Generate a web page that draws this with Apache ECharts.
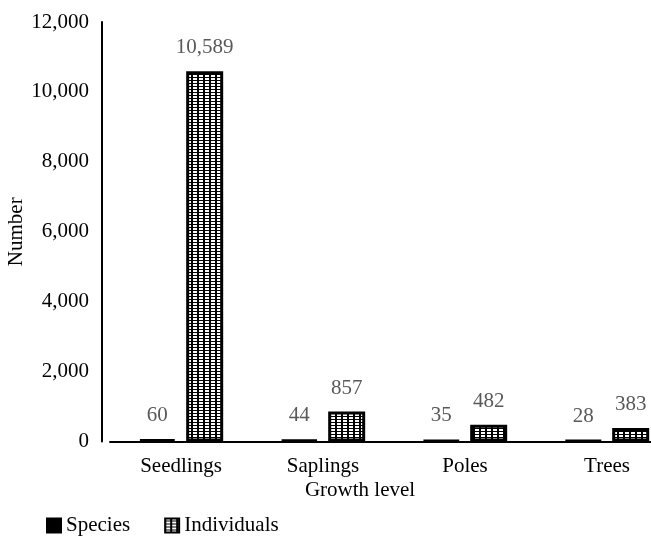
<!DOCTYPE html>
<html>
<head>
<meta charset="utf-8">
<script src="https://cdn.jsdelivr.net/npm/echarts@6/dist/echarts.min.js"></script>
<style>html,body{margin:0;padding:0;background:#fff;overflow:hidden}#c{width:720px;height:539px}</style>
</head>
<body>
<div id="c"></div>
<script>
const categories = ['Seedlings', 'Saplings', 'Poles', 'Trees'];
const speciesValues = [60, 44, 35, 28];
const individualsValues = [10589, 857, 482, 383];
const yTicks = [0, 2000, 4000, 6000, 8000, 10000, 12000];

const FONT = "'Liberation Serif', 'Times New Roman', serif";

function makePattern() {
  const cv = document.createElement('canvas');
  cv.width = 6; cv.height = 3;
  const ctx = cv.getContext('2d');
  ctx.fillStyle = '#000';
  ctx.fillRect(0, 0, 6, 3);
  ctx.fillStyle = '#fff';
  ctx.fillRect(1, 0, 4, 2);
  return cv;
}
const pattern = { image: makePattern(), repeat: 'repeat' };

const chart = echarts.init(document.getElementById('c'), null, { renderer: 'canvas' });
chart.setOption({
  animation: false,
  backgroundColor: '#fff',
  textStyle: { fontFamily: FONT },
  grid: { left: 110, top: 22, width: 568, bottom: 97.5, containLabel: false, outerBoundsMode: 'none' },
  legend: {
    left: 41, top: 510,
    itemWidth: 14, itemHeight: 14, itemGap: 34,
    icon: 'rect',
    textStyle: { fontFamily: FONT, fontSize: 21, color: '#000' },
    data: ['Species', 'Individuals']
  },
  xAxis: {
    type: 'category',
    data: categories,
    name: 'Growth level',
    nameLocation: 'middle',
    nameGap: 38,
    nameMoveOverlap: false,
    nameTextStyle: { fontFamily: FONT, fontSize: 21, color: '#000', padding: [0, 68, 0, 0] },
    axisLine: { show: true, lineStyle: { color: '#000', width: 2 } },
    axisTick: { show: false },
    axisLabel: { fontFamily: FONT, fontSize: 21, color: '#000', margin: 14 }
  },
  yAxis: {
    type: 'value',
    min: yTicks[0], max: yTicks[yTicks.length - 1], interval: 2000,
    offset: 8,
    name: 'Number',
    nameLocation: 'middle',
    nameGap: 75,
    nameMoveOverlap: false,
    nameTextStyle: { fontFamily: FONT, fontSize: 21, color: '#000' },
    axisLine: { show: true, lineStyle: { color: '#000', width: 2 } },
    axisTick: { show: false },
    splitLine: { show: false },
    axisLabel: {
      fontFamily: FONT, fontSize: 21, color: '#000', margin: 13,
      formatter: v => v.toLocaleString('en-US')
    }
  },
  series: [
    {
      name: 'Species', type: 'bar', data: speciesValues,
      barWidth: 37, barGap: '28%',
      itemStyle: { color: '#000', borderColor: '#000', borderWidth: 3 },
      label: { show: true, position: 'top', distance: 13, fontFamily: FONT, fontSize: 21, color: '#595959',
        formatter: p => p.value.toLocaleString('en-US') }
    },
    {
      name: 'Individuals', type: 'bar', data: individualsValues,
      barWidth: 37,
      itemStyle: { color: pattern, borderColor: '#000', borderWidth: 3 },
      label: { show: true, position: 'top', distance: 13, fontFamily: FONT, fontSize: 21, color: '#595959',
        formatter: p => p.value.toLocaleString('en-US') }
    }
  ]
});
</script>
</body>
</html>
